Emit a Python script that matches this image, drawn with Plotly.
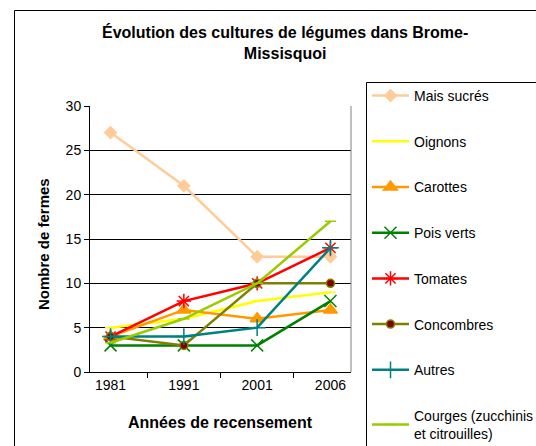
import plotly.graph_objects as go

years = ["1981", "1991", "2001", "2006"]
series_names = ["Mais sucrés", "Oignons", "Carottes", "Pois verts", "Tomates",
                "Concombres", "Autres", "Courges (zucchinis<br>et citrouilles)"]
mais = [27, 21, 13, 13]
oignons = [5, 6, 8, 9]
carottes = [4, 7, 6, 7]
pois = [3, 3, 3, 8]
tomates = [4, 8, 10, 14]
concombres = [4, 3, 10, 10]
autres = [4, 4, 5, 14]
courges = [3.3, 6, 10, 17]
values = [mais, oignons, carottes, pois, tomates, concombres, autres, courges]

line_colors = ["#FFCC99", "#FFFF00", "#FF9900", "#008000", "#FF0000", "#808000", "#008080", "#99CC00"]
symbols = ["diamond", "line-ew", "triangle-up", "x-thin", "asterisk", "circle", "cross-thin", "line-ew"]
msizes = [9, 8, 12, 12, 12, 8, 12, 8]
mfill = ["#FFCC99", "#FFFF00", "#FF9900", "#008000", "#FF0000", "#800000", "#008080", "#99CC00"]

FONT = "Liberation Sans, Arial, sans-serif"

fig = go.Figure()
for i, (name, vals) in enumerate(zip(series_names, values)):
    fig.add_trace(go.Scatter(
        x=years, y=vals, name=name, mode="lines+markers",
        legendgroup=f"g{i}",
        line=dict(color=line_colors[i], width=2.5),
        marker=dict(symbol=symbols[i], size=msizes[i], color=mfill[i],
                    line=dict(color=line_colors[i], width=1.5)),
    ))

W, H = 536, 446
L, R, T, B = 90, 185, 106, 74
pw, ph = W - L - R, H - T - B

def px(x):
    return (x - L) / pw

def py(y):
    return (H - B - y) / ph

shapes = [
    # outer chart frame
    dict(type="rect", xref="paper", yref="paper", x0=px(14.5), y0=py(470), x1=px(580), y1=py(10.5),
         line=dict(color="#000000", width=1), layer="below"),
    # legend box
    dict(type="rect", xref="paper", yref="paper", x0=px(366.5), y0=py(470), x1=px(580), y1=py(82.5),
         line=dict(color="#000000", width=1), layer="below"),
    # plot area border (gray right)
    dict(type="line", xref="paper", yref="paper", x0=1, y0=0, x1=1, y1=1,
         line=dict(color="#808080", width=1)),
]

fig.update_layout(
    width=W, height=H,
    margin=dict(l=L, r=R, t=T, b=B, autoexpand=False),
    paper_bgcolor="white", plot_bgcolor="white",
    font=dict(family=FONT, size=14, color="black"),
    shapes=shapes,
    annotations=[
        dict(text="<b>Évolution des cultures de légumes dans Brome-<br>Missisquoi</b>",
             xref="paper", yref="paper", x=px(285), y=py(43), xanchor="center", yanchor="middle",
             showarrow=False, font=dict(size=16, family=FONT)),
        dict(text="<b>Années de recensement</b>",
             xref="paper", yref="paper", x=px(220), y=py(422), xanchor="center", yanchor="middle",
             showarrow=False, font=dict(size=16, family=FONT)),
        dict(text="<b>Nombre de fermes</b>", textangle=-90,
             xref="paper", yref="paper", x=px(43), y=py(244), xanchor="center", yanchor="middle",
             showarrow=False, font=dict(size=15, family=FONT)),
    ],
    xaxis=dict(type="category", showline=True, linecolor="black", linewidth=1,
               ticks="outside", tickson="boundaries", ticklen=5, tickcolor="black",
               showgrid=False, tickfont=dict(size=14)),
    yaxis=dict(range=[0, 30], dtick=5, showline=True, linecolor="black", linewidth=1,
               ticks="outside", ticklen=5, tickcolor="black",
               showgrid=True, gridcolor="black", gridwidth=1, zeroline=False,
               tickfont=dict(size=14)),
    showlegend=True,
    legend=dict(x=px(367), y=py(80), xanchor="left", yanchor="top",
                traceorder="grouped", tracegroupgap=24.5, maxheight=420,
                font=dict(size=14, family=FONT), bgcolor="rgba(0,0,0,0)", borderwidth=0,
                itemwidth=37),
)

fig.write_html("out.html", config={"displayModeBar": False},
               post_script="document.body.style.margin='0px';document.body.style.overflow='hidden';")
